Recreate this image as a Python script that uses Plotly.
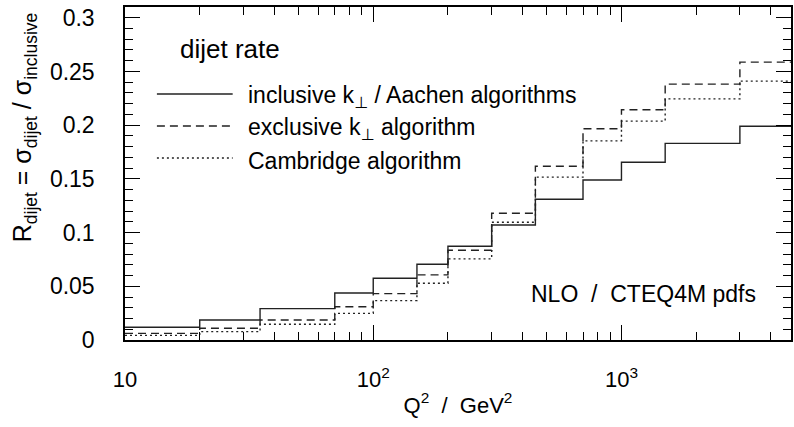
import numpy as np
import plotly.graph_objects as go

# Q^2 bin edges (GeV^2)
edges = [10, 20, 35, 70, 100, 150, 200, 300, 450, 700, 1000, 1500, 3000, 5000]
# dijet rates per bin
incl_kt = [0.0118, 0.0186, 0.0292, 0.0438, 0.0575, 0.0705, 0.0873, 0.1070, 0.1310, 0.1490, 0.1655, 0.1830, 0.1990]
excl_kt = [0.0062, 0.0109, 0.0186, 0.0310, 0.0432, 0.0606, 0.0835, 0.1180, 0.1618, 0.1966, 0.2143, 0.2382, 0.2587]
cambridge = [0.0043, 0.0078, 0.0146, 0.0248, 0.0367, 0.0528, 0.0755, 0.1096, 0.1516, 0.1854, 0.2038, 0.2245, 0.2410]

PERP = '<span style="font-family:DejaVu Sans;color:black">⊥</span>'
series_names = ["inclusive k<sub>" + PERP + "</sub> / Aachen algorithms",
                "exclusive k<sub>" + PERP + "</sub> algorithm",
                "Cambridge algorithm"]
dashes = ["solid", "8px,5px", "2px,3px"]

x_tickvals = [10, 100, 1000]
x_ticktext = ["10", "10<sup>2</sup>", "10<sup>3</sup>"]
y_tickvals = [0, 0.05, 0.1, 0.15, 0.2, 0.25, 0.3]
y_ticktext = ["0", "0.05", "0.1", "0.15", "0.2", "0.25", "0.3"]

FONT = "Liberation Sans, Arial, sans-serif"
fig = go.Figure()

for vals, name, dash in zip([incl_kt, excl_kt, cambridge], series_names, dashes):
    xs = list(edges)
    ys = list(vals) + [vals[-1]]
    fig.add_trace(go.Scatter(x=xs, y=ys, mode="lines", line_shape="hv",
                             line=dict(color="#222", width=1.4, dash=dash),
                             name=name, showlegend=False))

# legend key (paper coords)
W, H = 794, 427
ml, mr, mt, mb = 125, 1, 7, 87
pw, ph = W - ml - mr, H - mt - mb
def px(x): return (x - ml) / pw
def py(y): return 1 - (y - mt) / ph

for i, (name, dash) in enumerate(zip(series_names, dashes)):
    yy = 94 + 32 * i
    fig.add_shape(type="line", xref="paper", yref="paper",
                  x0=px(157), x1=px(233), y0=py(yy), y1=py(yy),
                  line=dict(color="#222", width=1.4, dash=dash))
    fig.add_annotation(xref="paper", yref="paper", x=px(246), y=py(yy + 3),
                       text=name, showarrow=False, xanchor="left", yanchor="middle",
                       font=dict(size=23, color="black", family=FONT))

fig.add_annotation(xref="paper", yref="paper", x=px(178), y=py(49),
                   text="dijet rate", showarrow=False, xanchor="left", yanchor="middle",
                   font=dict(size=26, color="black", family=FONT))
fig.add_annotation(xref="paper", yref="paper", x=px(760), y=py(294),
                   text="NLO  /  CTEQ4M pdfs", showarrow=False, xanchor="right", yanchor="middle",
                   font=dict(size=23, color="black", family=FONT))
# y-axis title
fig.add_annotation(xref="paper", yref="paper", x=px(24), y=py(127),
                   text="R<sub>dijet</sub> = σ<sub>dijet</sub> / σ<sub>inclusive</sub>",
                   textangle=-90, showarrow=False, xanchor="center", yanchor="middle",
                   font=dict(size=25, color="black", family=FONT))

x_minor = [v * m for m in (10, 100, 1000) for v in range(2, 10)]
fig.update_xaxes(type="log", range=[1, 3.683],
                 tickvals=x_tickvals, ticktext=x_ticktext,
                 ticks="inside", ticklen=15, tickwidth=1, tickcolor="black",
                 minor=dict(tickvals=x_minor, ticks="inside", ticklen=8, tickcolor="black", showgrid=False),
                 showline=True, linecolor="black", linewidth=1.5, mirror="allticks",
                 showgrid=False, zeroline=False, ticklabelstandoff=19,
                 tickfont=dict(size=22, family=FONT, color="black"),
                 title=dict(text="Q<sup>2</sup>  /  GeV<sup>2</sup>", standoff=6,
                            font=dict(size=22, family=FONT, color="black")))
fig.update_yaxes(range=[0, 0.31],
                 tickvals=y_tickvals, ticktext=y_ticktext,
                 ticks="inside", ticklen=15, tickwidth=1, tickcolor="black",
                 minor=dict(dtick=0.01, ticks="inside", ticklen=8, tickcolor="black", showgrid=False),
                 showline=True, linecolor="black", linewidth=1.5, mirror="allticks",
                 showgrid=False, zeroline=False, ticklabelstandoff=24,
                 tickfont=dict(size=23, family=FONT, color="black"))

fig.update_layout(width=W, height=H, margin=dict(l=ml, r=mr, t=mt, b=mb),
                  plot_bgcolor="white", paper_bgcolor="white", showlegend=False)

fig.write_html("out.html")
